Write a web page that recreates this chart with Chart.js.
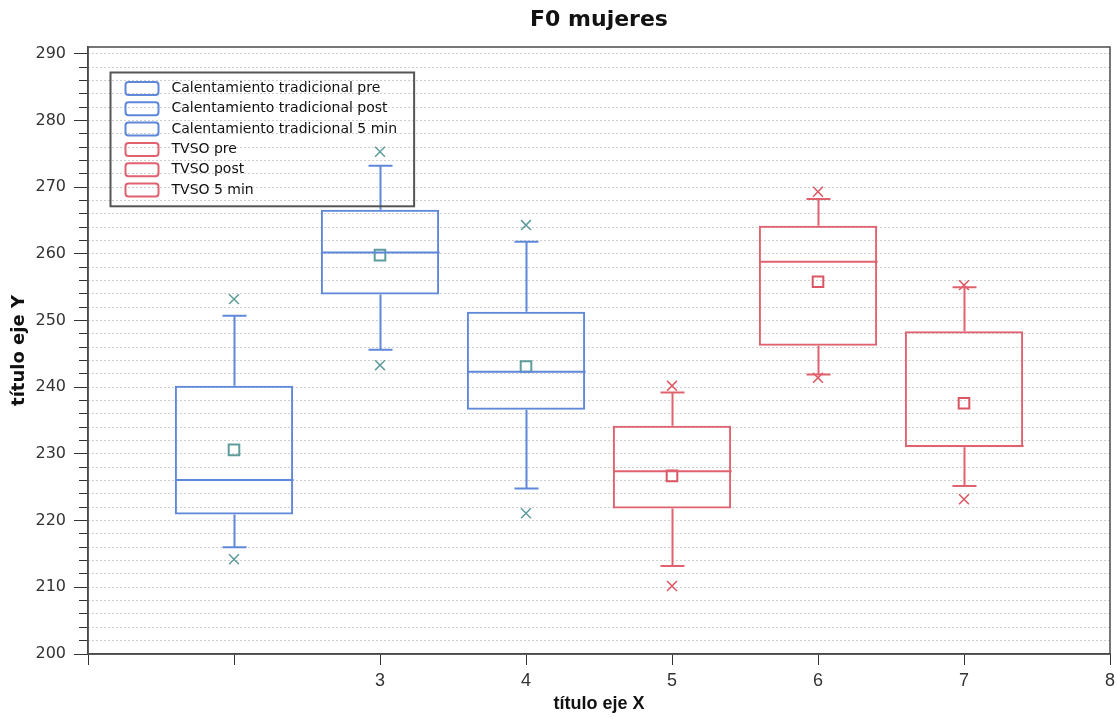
<!DOCTYPE html>
<html>
<head>
<meta charset="utf-8">
<title>F0 mujeres</title>
<script src="https://cdn.jsdelivr.net/npm/chart.js@4.4.1/dist/chart.umd.min.js"></script>
<style>
  html, body { margin: 0; padding: 0; background: #fff; }
  #wrap { width: 1117px; height: 719px; }
</style>
</head>
<body>
<div id="wrap"><canvas id="boxChart"></canvas></div>
<script>
// box plot values per group (F0 in Hz)
var groups = [2, 3, 4, 5, 6, 7];
var seriesNames = [
  'Calentamiento tradicional pre',
  'Calentamiento tradicional post',
  'Calentamiento tradicional 5 min',
  'TVSO pre',
  'TVSO post',
  'TVSO 5 min'
];
var lowWhisker  = [216.0, 245.6, 224.8, 213.2, 241.9, 225.2];
var q1          = [220.9, 253.9, 236.6, 221.8, 246.2, 231.0];
var median      = [226.1, 260.2, 242.3, 227.4, 258.8, 231.2];
var q3          = [240.2, 266.6, 251.3, 234.2, 264.2, 248.4];
var highWhisker = [250.7, 273.2, 261.8, 239.2, 268.2, 255.0];
var means       = [230.6, 259.8, 243.1, 226.7, 255.8, 237.6];
var minPoint    = [214.2, 243.3, 221.1, 210.2, 241.4, 223.2];
var maxPoint    = [253.2, 275.3, 264.3, 240.2, 269.3, 255.3];

var xTickLabels = ['', '', '3', '4', '5', '6', '7', '8'];   // for x = 1..8
var yLabelStep = 10;

var boxColors    = ['#5f88da', '#5f88da', '#5f88da', '#e0626f', '#e0626f', '#e0626f'];
var markerColors = ['#5e9c9c', '#5e9c9c', '#5e9c9c', '#db5562', '#db5562', '#db5562'];

var datasets = [];
groups.forEach(function(g, i) {
  datasets.push({
    type: 'bar',
    label: seriesNames[i],
    data: [{ x: g, y: [q1[i], q3[i]] }],
    backgroundColor: 'rgba(0,0,0,0)',
    borderColor: boxColors[i],
    borderWidth: 2,
    borderSkipped: false,
    grouped: false,
    barPercentage: 0.81,
    categoryPercentage: 1
  });
});
datasets.push({
  type: 'scatter',
  label: 'media',
  data: groups.map(function(g, i) { return { x: g, y: means[i] }; }),
  pointStyle: 'rect',
  pointRadius: 7.5,
  pointBorderWidth: 2,
  pointBackgroundColor: 'rgba(0,0,0,0)',
  pointBorderColor: markerColors
});
datasets.push({
  type: 'scatter',
  label: 'min/max',
  data: groups.map(function(g, i) { return { x: g, y: minPoint[i] }; })
    .concat(groups.map(function(g, i) { return { x: g, y: maxPoint[i] }; })),
  pointStyle: 'crossRot',
  pointRadius: 7,
  pointBorderWidth: 1.5,
  pointBorderColor: markerColors.concat(markerColors)
});

// whiskers, caps and median line of each box
var whiskerPlugin = {
  id: 'whiskers',
  afterDatasetsDraw: function(chart) {
    var ctx = chart.ctx, xs = chart.scales.x, ys = chart.scales.y;
    groups.forEach(function(g, i) {
      var bar = chart.getDatasetMeta(i).data[0];
      var cx = Math.round(xs.getPixelForValue(g)) + 0.5;
      var half = bar.width / 2;
      var cap = 12;
      var yMed = ys.getPixelForValue(median[i]);
      var yQ1 = ys.getPixelForValue(q1[i]), yQ3 = ys.getPixelForValue(q3[i]);
      var yLo = ys.getPixelForValue(lowWhisker[i]), yHi = ys.getPixelForValue(highWhisker[i]);
      ctx.save();
      ctx.strokeStyle = boxColors[i];
      ctx.lineWidth = 2;
      ctx.beginPath();
      ctx.moveTo(cx - half, yMed); ctx.lineTo(cx + half, yMed);
      ctx.moveTo(cx, yQ3); ctx.lineTo(cx, yHi);
      ctx.moveTo(cx - cap, yHi); ctx.lineTo(cx + cap, yHi);
      ctx.moveTo(cx, yQ1); ctx.lineTo(cx, yLo);
      ctx.moveTo(cx - cap, yLo); ctx.lineTo(cx + cap, yLo);
      ctx.stroke();
      ctx.restore();
    });
  }
};

// frame around the plot and the boxed legend in its top-left corner
var framePlugin = {
  id: 'frameLegend',
  afterDraw: function(chart) {
    var ctx = chart.ctx, a = chart.chartArea;
    ctx.save();
    ctx.strokeStyle = '#4a4a4a';
    ctx.lineWidth = 1.5;
    ctx.strokeRect(a.left, a.top, a.right - a.left, a.bottom - a.top);

    ctx.font = '14px "DejaVu Sans", sans-serif';
    var textW = 0;
    seriesNames.forEach(function(s) { textW = Math.max(textW, ctx.measureText(s).width); });
    var lx = a.left + 22.5, ly = a.top + 25.5;
    var rowH = 20.3;
    var w = 61 + textW + 17, h = seriesNames.length * rowH + 12;
    ctx.strokeStyle = '#555';
    ctx.lineWidth = 2;
    ctx.strokeRect(lx, ly, w, h);
    seriesNames.forEach(function(s, i) {
      var cy = ly + 16 + i * rowH;
      ctx.strokeStyle = boxColors[i];
      ctx.lineWidth = 2;
      ctx.beginPath();
      ctx.roundRect(lx + 15, cy - 6.5, 33, 13, 3);
      ctx.stroke();
      ctx.fillStyle = '#111';
      ctx.textBaseline = 'middle';
      ctx.textAlign = 'left';
      ctx.fillText(s, lx + 61, cy);
    });
    ctx.restore();
  }
};

var ctx = document.getElementById('boxChart').getContext('2d');
var boxChart = new Chart(ctx, {
  type: 'bar',
  data: { datasets: datasets },
  options: {
    responsive: true,
    maintainAspectRatio: false,
    animation: false,
    layout: { autoPadding: false, padding: { left: 0, right: 7, top: 0, bottom: 0 } },
    plugins: {
      legend: { display: false },
      tooltip: { enabled: false },
      title: {
        display: true,
        text: 'F0 mujeres',
        fullSize: false,
        color: '#111',
        font: { family: '"DejaVu Sans", sans-serif', size: 22, weight: 'bold' },
        padding: { top: 7, bottom: 13.6 }
      }
    },
    scales: {
      x: {
        type: 'linear',
        min: 1,
        max: 8,
        offset: false,
        ticks: {
          stepSize: 1,
          autoSkip: false,
          maxRotation: 0,
          padding: 5,
          color: '#333',
          font: { family: '"Liberation Sans Narrow", "Liberation Sans", sans-serif', size: 18 },
          callback: function(v) { return xTickLabels[v - 1]; }
        },
        grid: { offset: false, drawOnChartArea: false, tickLength: 11, tickColor: '#333', tickWidth: 1 },
        border: { display: true, color: '#4a4a4a', width: 1.5 },
        title: {
          display: true,
          text: 'título eje X',
          color: '#111',
          font: { family: '"Liberation Sans Narrow", "Liberation Sans", sans-serif', size: 18, weight: 'bold' },
          padding: { top: 0, bottom: 4 }
        },
        afterFit: function(s) { s.height = 65; s.paddingLeft = 0; s.paddingRight = 0; }
      },
      y: {
        type: 'linear',
        min: 200,
        max: 291,
        ticks: {
          stepSize: 2,
          includeBounds: false,
          autoSkip: false,
          padding: 8,
          color: '#333',
          font: { family: '"DejaVu Sans", sans-serif', size: 16 },
          callback: function(v) { return v % yLabelStep === 0 ? v : ''; }
        },
        grid: {
          color: '#9c9c9c',
          lineWidth: 1,
          tickLength: 14,
          tickColor: '#333',
          tickWidth: 1,
          // minor ticks: only the inner 9px of the tick are drawn
          tickBorderDash: function(c) { return c.tick && c.tick.value % yLabelStep !== 0 ? [0, 5, 20, 0] : []; }
        },
        border: { display: true, color: '#4a4a4a', width: 1.5, dash: [1, 3] },
        title: {
          display: true,
          text: 'título eje Y',
          color: '#111',
          font: { family: '"DejaVu Sans", sans-serif', size: 18, weight: 'bold' },
          padding: { top: 9, bottom: 0 }
        },
        afterFit: function(s) { s.width = 88; }
      }
    }
  },
  plugins: [whiskerPlugin, framePlugin]
});
</script>
</body>
</html>
